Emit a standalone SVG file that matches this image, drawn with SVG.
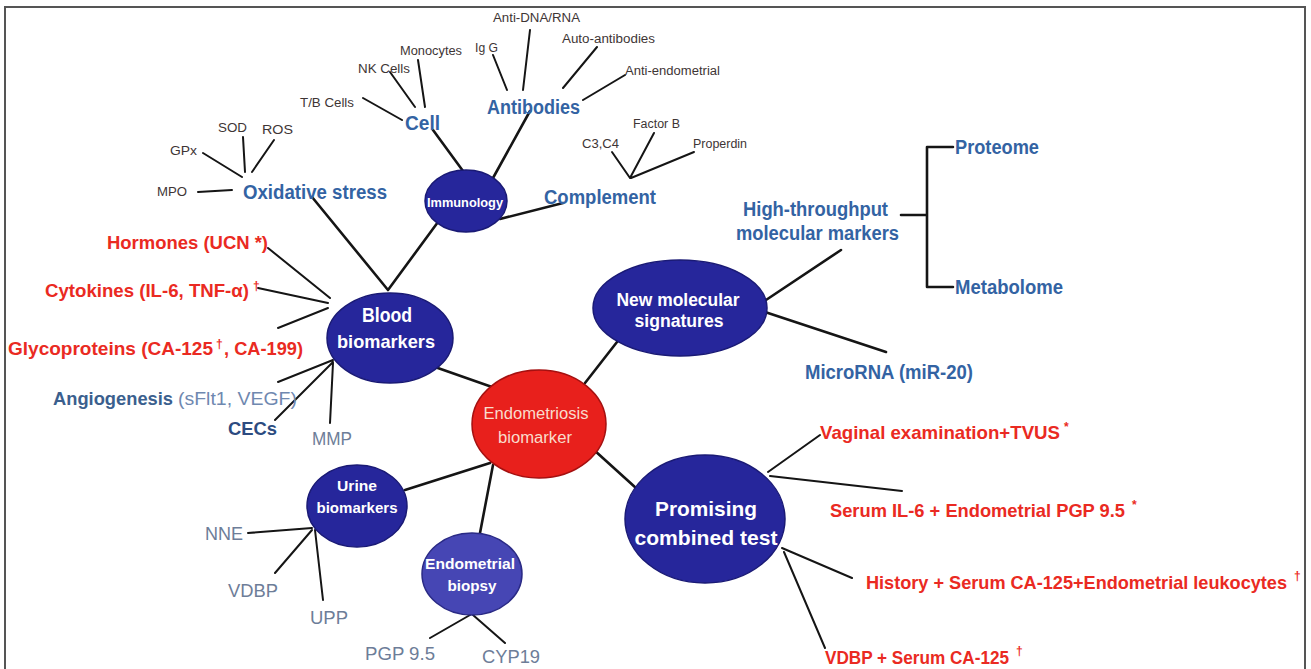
<svg xmlns="http://www.w3.org/2000/svg" width="1311" height="669" viewBox="0 0 1311 669">
<style>
text{font-family:"Liberation Sans",Arial,sans-serif}
.c{stroke:#151515;stroke-width:2.6;fill:none;stroke-linecap:round}
.t{stroke:#151515;stroke-width:2;fill:none;stroke-linecap:round}
.bub{fill:#26269b;stroke:#1a1a75;stroke-width:1.5}
.sm{font-size:12px;fill:#3e3535}
.bl{font-size:20px;font-weight:bold;fill:#3363a3}
.rd{font-size:19px;font-weight:bold;fill:#ea2a22}
.sup{font-size:12px;font-weight:bold;fill:#ea2a22}
.gy{font-size:19px;fill:#6d7d98}
.wt{fill:#fff;font-weight:bold;text-anchor:middle}
</style>
<rect width="1311" height="669" fill="#fff"/>
<path d="M5,669V7H1305V669" fill="none" stroke="#555" stroke-width="2"/>
<g id="connectors">
<path class="c" d="M435,367L492,387M388,290L438,222M312,197L388,290M433,130L463,171M530,111L493,178M500,219L563,203M585,383L617,342M594,450L636,488M490,463L405,490M493,465L480,533M766,300L841,250M765,312L886,352"/>
<path class="c" d="M901,215H927M927,147V287M927,147H953M927,287H953"/>
<path class="t" d="M268,248L330,298M258,288L328,303M278,328L328,308M278,382L333,360M275,420L333,362M330,423L333,363"/>
<path class="t" d="M248,533L312,528M275,573L312,530M323,600L315,530M430,638L470,615M505,643L473,615"/>
<path class="t" d="M198,192L232,190M203,153L242,177M243,137L245,172M274,140L252,172"/>
<path class="t" d="M363,98L402,120M390,72L415,107M418,60L425,107M493,55L507,90M530,30L523,90M597,47L563,88M625,75L583,100"/>
<path class="t" d="M612,152L630,178M654,133L630,178M694,152L631,178"/>
<path class="t" d="M768,472L820,435M770,476L902,491M782,548L852,578M784,552L825,648"/>
</g>
<g id="endometriosis">
<ellipse cx="539" cy="424" rx="67" ry="54" fill="#e8201c" stroke="#a51010" stroke-width="1.5"/>
<text x="536" y="419" font-size="16" fill="#f9dccc" text-anchor="middle" textLength="105" lengthAdjust="spacingAndGlyphs">Endometriosis</text>
<text x="535" y="443" font-size="16" fill="#f9dccc" text-anchor="middle" textLength="74" lengthAdjust="spacingAndGlyphs">biomarker</text>
</g>
<g id="blood">
<ellipse class="bub" cx="390" cy="338" rx="63" ry="45"/>
<text class="wt" x="387" y="322" font-size="20" textLength="50" lengthAdjust="spacingAndGlyphs">Blood</text>
<text class="wt" x="386" y="348" font-size="19" textLength="98" lengthAdjust="spacingAndGlyphs">biomarkers</text>
</g>
<g id="immunology">
<ellipse class="bub" cx="466" cy="201" rx="41" ry="31"/>
<text class="wt" x="465" y="207" font-size="13" textLength="76" lengthAdjust="spacingAndGlyphs">Immunology</text>
</g>
<g id="newmol">
<ellipse class="bub" cx="680" cy="308" rx="87" ry="48"/>
<text class="wt" x="678" y="306" font-size="18" textLength="123" lengthAdjust="spacingAndGlyphs">New molecular</text>
<text class="wt" x="679" y="327" font-size="18" textLength="89" lengthAdjust="spacingAndGlyphs">signatures</text>
</g>
<g id="promising">
<ellipse class="bub" cx="705" cy="519" rx="80" ry="64"/>
<text class="wt" x="706" y="516" font-size="21" textLength="102" lengthAdjust="spacingAndGlyphs">Promising</text>
<text class="wt" x="706" y="545" font-size="21" textLength="143" lengthAdjust="spacingAndGlyphs">combined test</text>
</g>
<g id="urine">
<ellipse class="bub" cx="357" cy="506" rx="50" ry="41"/>
<text class="wt" x="357" y="491" font-size="15" textLength="40" lengthAdjust="spacingAndGlyphs">Urine</text>
<text class="wt" x="357" y="513" font-size="15" textLength="81" lengthAdjust="spacingAndGlyphs">biomarkers</text>
</g>
<g id="biopsy">
<ellipse cx="472" cy="574" rx="50" ry="41" fill="#4646b4" stroke="#2a2a85" stroke-width="1.5"/>
<text class="wt" x="470" y="569" font-size="15" textLength="90" lengthAdjust="spacingAndGlyphs">Endometrial</text>
<text class="wt" x="472" y="591" font-size="15" textLength="49" lengthAdjust="spacingAndGlyphs">biopsy</text>
</g>
<g id="immuno-leaves">
<text class="sm" x="493" y="22" textLength="87" lengthAdjust="spacingAndGlyphs">Anti-DNA/RNA</text>
<text class="sm" x="475" y="52" textLength="23" lengthAdjust="spacingAndGlyphs">Ig G</text>
<text class="sm" x="400" y="55" textLength="62" lengthAdjust="spacingAndGlyphs">Monocytes</text>
<text class="sm" x="358" y="73" textLength="52" lengthAdjust="spacingAndGlyphs">NK Cells</text>
<text class="sm" x="300" y="107" textLength="54" lengthAdjust="spacingAndGlyphs">T/B Cells</text>
<text class="sm" x="562" y="43" textLength="93" lengthAdjust="spacingAndGlyphs">Auto-antibodies</text>
<text class="sm" x="625" y="75" textLength="95" lengthAdjust="spacingAndGlyphs">Anti-endometrial</text>
<text class="sm" x="218" y="132" font-size="14" textLength="29" lengthAdjust="spacingAndGlyphs">SOD</text>
<text class="sm" x="262" y="134" font-size="16" textLength="31" lengthAdjust="spacingAndGlyphs">ROS</text>
<text class="sm" x="170" y="155" font-size="13" textLength="27" lengthAdjust="spacingAndGlyphs">GPx</text>
<text class="sm" x="157" y="196" font-size="13" textLength="30" lengthAdjust="spacingAndGlyphs">MPO</text>
<text class="sm" x="582" y="148" textLength="37" lengthAdjust="spacingAndGlyphs">C3,C4</text>
<text class="sm" x="633" y="128" textLength="47" lengthAdjust="spacingAndGlyphs">Factor B</text>
<text class="sm" x="693" y="148" textLength="54" lengthAdjust="spacingAndGlyphs">Properdin</text>
</g>
<g id="categories">
<text class="bl" x="405" y="130" font-size="21" textLength="35" lengthAdjust="spacingAndGlyphs">Cell</text>
<text class="bl" x="487" y="114" font-size="21" textLength="93" lengthAdjust="spacingAndGlyphs">Antibodies</text>
<text class="bl" x="243" y="199" font-size="21" textLength="144" lengthAdjust="spacingAndGlyphs">Oxidative stress</text>
<text class="bl" x="544" y="204" textLength="112" lengthAdjust="spacingAndGlyphs">Complement</text>
<text class="bl" x="743" y="216" textLength="145" lengthAdjust="spacingAndGlyphs">High-throughput</text>
<text class="bl" x="736" y="240" textLength="163" lengthAdjust="spacingAndGlyphs">molecular markers</text>
<text class="bl" x="955" y="154" textLength="84" lengthAdjust="spacingAndGlyphs">Proteome</text>
<text class="bl" x="955" y="294" textLength="108" lengthAdjust="spacingAndGlyphs">Metabolome</text>
<text class="bl" x="805" y="379" textLength="168" lengthAdjust="spacingAndGlyphs">MicroRNA (miR-20)</text>
</g>
<g id="blood-leaves">
<text class="rd" x="107" y="249" textLength="161" lengthAdjust="spacingAndGlyphs">Hormones (UCN *)</text>
<text class="rd" x="45" y="297" textLength="204" lengthAdjust="spacingAndGlyphs">Cytokines (IL-6, TNF-α)</text>
<text class="sup" x="253" y="290" font-size="13">†</text>
<text class="rd" x="8" y="355" textLength="205" lengthAdjust="spacingAndGlyphs">Glycoproteins (CA-125</text>
<text class="sup" x="216" y="348" font-size="13">†</text>
<text class="rd" x="224" y="355" textLength="79" lengthAdjust="spacingAndGlyphs">, CA-199)</text>
<text x="53" y="405" font-size="19" font-weight="bold" fill="#3b5f8e" textLength="120" lengthAdjust="spacingAndGlyphs">Angiogenesis</text>
<text x="178" y="405" font-size="19" fill="#6f88b0" textLength="119" lengthAdjust="spacingAndGlyphs">(sFlt1, VEGF)</text>
<text x="228" y="435" font-size="19" font-weight="bold" fill="#2c4b80" textLength="49" lengthAdjust="spacingAndGlyphs">CECs</text>
<text class="gy" x="312" y="445" textLength="40" lengthAdjust="spacingAndGlyphs">MMP</text>
</g>
<g id="urine-biopsy-leaves">
<text class="gy" x="205" y="540" textLength="38" lengthAdjust="spacingAndGlyphs">NNE</text>
<text class="gy" x="228" y="597" textLength="50" lengthAdjust="spacingAndGlyphs">VDBP</text>
<text class="gy" x="310" y="624" textLength="38" lengthAdjust="spacingAndGlyphs">UPP</text>
<text class="gy" x="365" y="660" textLength="70" lengthAdjust="spacingAndGlyphs">PGP 9.5</text>
<text class="gy" x="482" y="663" textLength="58" lengthAdjust="spacingAndGlyphs">CYP19</text>
</g>
<g id="combined-leaves">
<text class="rd" x="820" y="439" font-size="18" textLength="240" lengthAdjust="spacingAndGlyphs">Vaginal examination+TVUS</text>
<text class="sup" x="1064" y="431" font-size="11">*</text>
<text class="rd" x="830" y="517" font-size="18" textLength="295" lengthAdjust="spacingAndGlyphs">Serum IL-6 + Endometrial PGP 9.5</text>
<text class="sup" x="1132" y="509" font-size="11">*</text>
<text class="rd" x="866" y="589" font-size="18" textLength="421" lengthAdjust="spacingAndGlyphs">History + Serum CA-125+Endometrial leukocytes</text>
<text class="sup" x="1294" y="580">†</text>
<text class="rd" x="825" y="664" font-size="18" textLength="184" lengthAdjust="spacingAndGlyphs">VDBP + Serum CA-125</text>
<text class="sup" x="1016" y="655">†</text>
</g>
</svg>
